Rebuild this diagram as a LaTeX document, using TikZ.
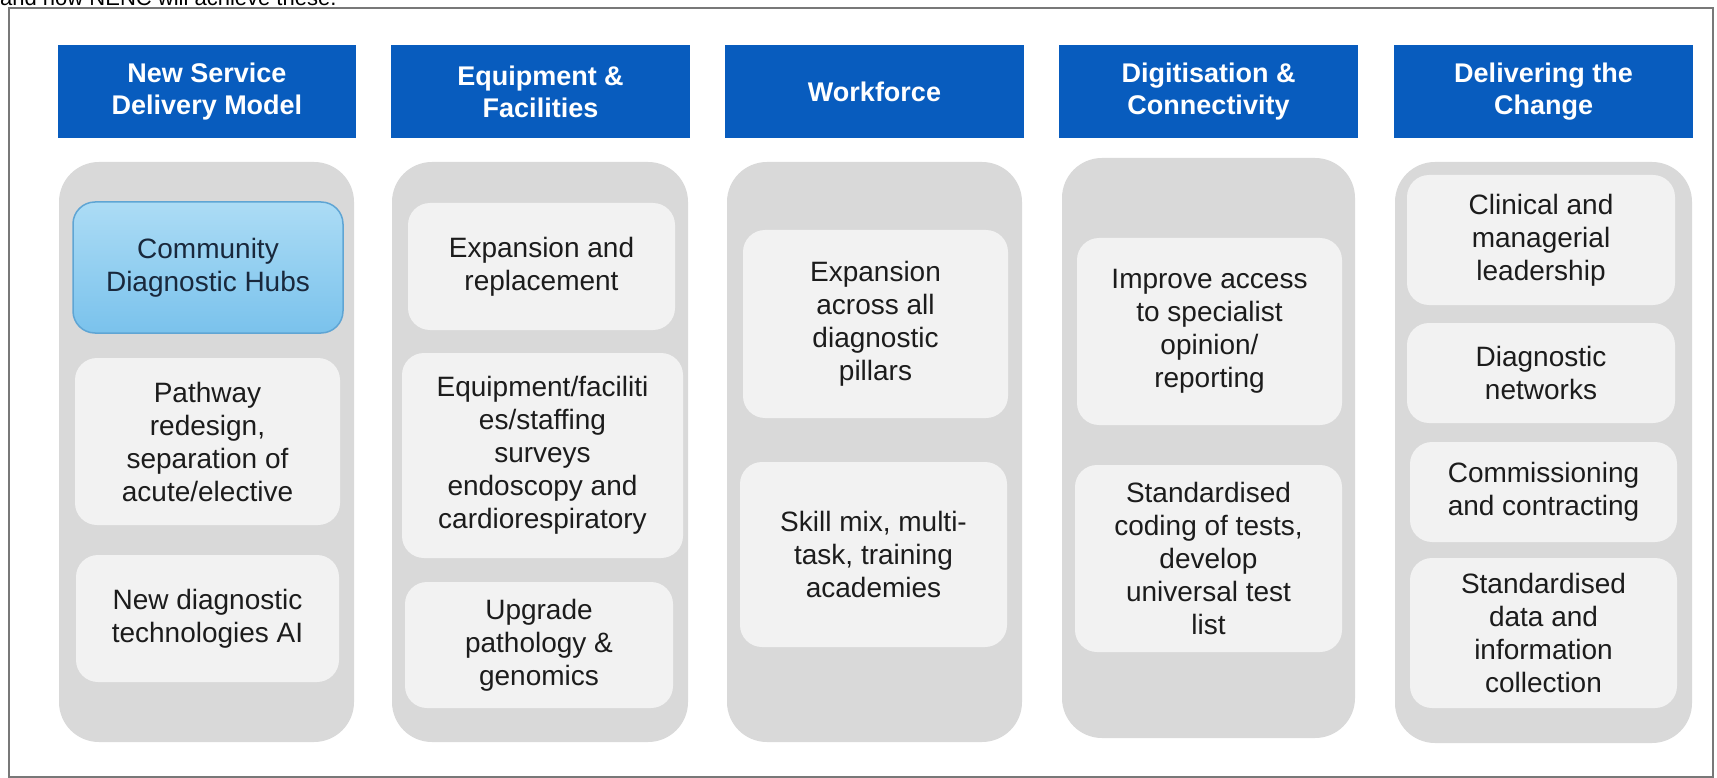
\documentclass[tikz,border=0pt]{standalone}
\usepackage{fontspec}
\setmainfont{Liberation Sans}
\definecolor{hdrblue}{RGB}{8,92,190}
\definecolor{colgray}{RGB}{217,217,217}
\definecolor{boxgray}{RGB}{242,242,242}
\definecolor{txtgray}{RGB}{28,28,28}
\definecolor{hubtop}{RGB}{172,220,245}
\definecolor{hubbot}{RGB}{122,194,236}
\definecolor{hubedge}{RGB}{95,165,212}
\definecolor{hubtext}{RGB}{25,40,60}
\definecolor{framegray}{RGB}{120,120,120}
\newcommand\mybox[7]{%
  \pgfmathsetmacro\mbcx{(#2+#4)/2}%
  \pgfmathsetmacro\mbcy{(#3+#5)/2}%
  \pgfmathsetmacro\mbw{#4-#2}%
  \pgfmathsetmacro\mbh{#5-#3}%
  \node[#6, minimum width=\mbw pt, minimum height=\mbh pt] (#1) at (\mbcx,\mbcy) {#7};}
\begin{document}
\begin{tikzpicture}[x=1pt,y=-1pt,
  hdr/.style={fill=hdrblue, draw=none, text=white, font=\fontsize{27}{32}\selectfont\bfseries, align=center, inner sep=0pt, outer sep=0pt},
  colbox/.style={fill=colgray, draw=none, rounded corners=40pt, inner sep=0pt, outer sep=0pt},
  item/.style={fill=boxgray, draw=none, rounded corners=22pt, text=txtgray, font=\fontsize{28}{33}\selectfont, align=center, inner sep=0pt, outer sep=0pt},
  hub/.style={item, top color=hubtop, bottom color=hubbot, draw=hubedge, line width=1.5pt, text=hubtext},
  frameline/.style={draw=framegray, line width=2.5pt}]
\useasboundingbox (0,0) rectangle (1717,778);
\fill[white] (0,0) rectangle (1717,778);
% cut-off line of text above the frame
\node[anchor=base west, inner sep=0pt, font=\fontsize{22}{26}\selectfont, text=black] (toptext) at (0,6) {and how NENC will achieve these.};
% frame
\draw[frameline] (9,8) rectangle (1713,777);
% columns
\mybox{c1}{59}{162}{354}{742}{colbox}{}
\mybox{c2}{392}{162}{688}{742}{colbox}{}
\mybox{c3}{727}{162}{1022}{742}{colbox}{}
\mybox{c4}{1062}{158}{1355}{738}{colbox}{}
\mybox{c5}{1395}{162}{1692}{743}{colbox}{}
% headers
\mybox{h1}{58}{45}{356}{138}{hdr}{New Service\\Delivery Model}
\mybox{h2}{391}{45}{690}{138}{hdr}{Equipment \&\\Facilities}
\mybox{h3}{725}{45}{1024}{138}{hdr}{Workforce}
\mybox{h4}{1059}{45}{1358}{138}{hdr}{Digitisation \&\\Connectivity}
\mybox{h5}{1394}{45}{1693}{138}{hdr}{Delivering the\\Change}
% column 1
\mybox{a1}{73}{202}{343}{333}{hub}{Community\\Diagnostic Hubs}
\mybox{a2}{75}{358}{340}{525}{item}{Pathway\\redesign,\\separation of\\acute/elective}
\mybox{a3}{76}{555}{339}{682}{item}{New diagnostic\\technologies AI}
% column 2
\mybox{b1}{408}{203}{675}{330}{item}{Expansion and\\replacement}
\mybox{b2}{402}{353}{683}{558}{item}{Equipment/faciliti\\es/staffing\\surveys\\endoscopy and\\cardiorespiratory}
\mybox{b3}{405}{582}{673}{708}{item}{Upgrade\\pathology \&\\genomics}
% column 3
\mybox{w1}{743}{230}{1008}{418}{item}{Expansion\\across all\\diagnostic\\pillars}
\mybox{w2}{740}{462}{1007}{647}{item}{Skill mix, multi-\\task, training\\academies}
% column 4
\mybox{d1}{1077}{238}{1342}{425}{item}{Improve access\\to specialist\\opinion/\\reporting}
\mybox{d2}{1075}{465}{1342}{652}{item}{Standardised\\coding of tests,\\develop\\universal test\\list}
% column 5
\mybox{e1}{1407}{175}{1675}{305}{item}{Clinical and\\managerial\\leadership}
\mybox{e2}{1407}{323}{1675}{423}{item}{Diagnostic\\networks}
\mybox{e3}{1410}{442}{1677}{542}{item}{Commissioning\\and contracting}
\mybox{e4}{1410}{558}{1677}{708}{item}{Standardised\\data and\\information\\collection}
\end{tikzpicture}
\end{document}
